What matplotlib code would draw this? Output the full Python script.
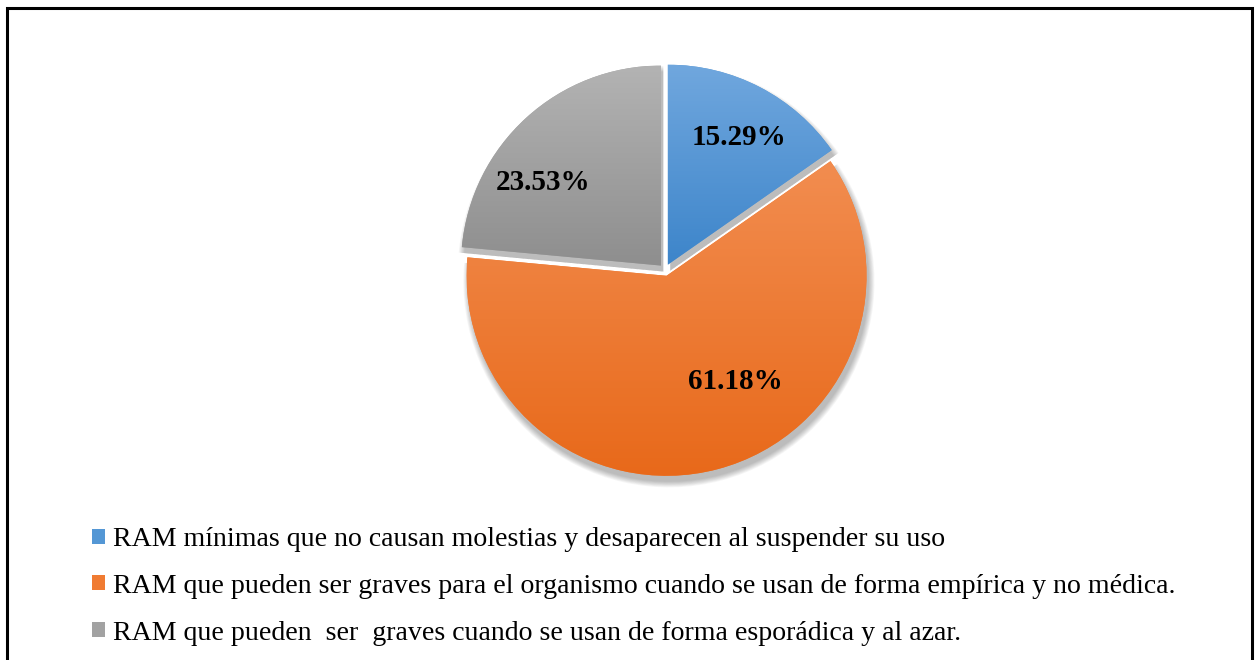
import numpy as np
import matplotlib
matplotlib.use("Agg")
import matplotlib.pyplot as plt
from matplotlib.patches import Rectangle, Wedge
from matplotlib.colors import LinearSegmentedColormap

# data
labels = [
    "RAM mínimas que no causan molestias y desaparecen al suspender su uso",
    "RAM que pueden ser graves para el organismo cuando se usan de forma empírica y no médica.",
    "RAM que pueden  ser  graves cuando se usan de forma esporádica y al azar.",
]
values = [15.29, 61.18, 23.53]
top_colors = ["#70a7de", "#f28d50", "#b3b3b3"]
bottom_colors = ["#3d85ca", "#e8691a", "#8e8e8e"]
mid_colors = ["#5497d5", "#f07b32", "#a2a2a2"]

plt.rcParams['font.family'] = ['Liberation Serif', 'DejaVu Serif']

W, H = 1259, 660
fig = plt.figure(figsize=(W / 100, H / 100), dpi=100)

# border of the chart area
fig.patches.append(Rectangle((7 / W, -0.05), (1252 - 7) / W, (H - 8) / H + 0.05,
                             transform=fig.transFigure, fill=False,
                             edgecolor="black", linewidth=2.2))

cx, cy, rpx = 665, 270, 200
half = 220
ax = fig.add_axes([(cx - half) / W, (H - cy - half) / H, 2 * half / W, 2 * half / H])
ax.set_xlim(-1.1, 1.1)
ax.set_ylim(-1.1, 1.1)
ax.set_aspect("equal")
ax.axis("off")

explode = [0.03, 0.03, 0.03]
wedges, texts, autotexts = ax.pie(values, startangle=90, counterclock=False,
                                  explode=explode, radius=1.0,
                                  colors=mid_colors, autopct="%.2f%%",
                                  pctdistance=0.72,
                                  wedgeprops=dict(linewidth=0),
                                  textprops=dict(fontsize=21, fontweight="bold",
                                                 color="black"))

# soft shadow below the slices
for w in wedges:
    for k in range(8):
        sh = Wedge((w.center[0] + 0.012, w.center[1] - 0.03), w.r + 0.004 * k,
                   w.theta1, w.theta2, facecolor="black", alpha=0.035,
                   linewidth=0, zorder=0.5)
        ax.add_patch(sh)

# gradient fills, clipped to each wedge
for w, c0, c1 in zip(wedges, top_colors, bottom_colors):
    cmap = LinearSegmentedColormap.from_list("g", [c1, c0])
    ext = w.get_path().get_extents()
    grad = np.linspace(0, 1, 256).reshape(-1, 1)
    im = ax.imshow(grad, cmap=cmap, origin="lower", aspect="auto",
                   extent=[ext.x0, ext.x1, ext.y0, ext.y1], zorder=2,
                   interpolation="bicubic")
    im.set_clip_path(w)
    w.set_zorder(1)

# label placement (Excel best fit)
label_pos = [(60.7, 0.76), (-58.0, 0.66), (144.5, 0.75)]
for t, (ang, rr) in zip(autotexts, label_pos):
    a = np.deg2rad(ang)
    t.set_position((rr * np.cos(a), rr * np.sin(a)))
    t.set_zorder(5)

ax.set_xlim(-1.1, 1.1)
ax.set_ylim(-1.1, 1.1)

handles = [Rectangle((0, 0), 1, 1, facecolor=c, edgecolor="none") for c in mid_colors]
fig.legend(handles, labels, loc="upper left", bbox_to_anchor=(92 / W, 1 - 527 / H),
           frameon=False, fontsize=20.1, handlelength=0.45, handleheight=0.45,
           handletextpad=0.3, labelspacing=0.78, borderpad=0, borderaxespad=0)

fig.savefig("out.png", dpi=100, facecolor="white")
